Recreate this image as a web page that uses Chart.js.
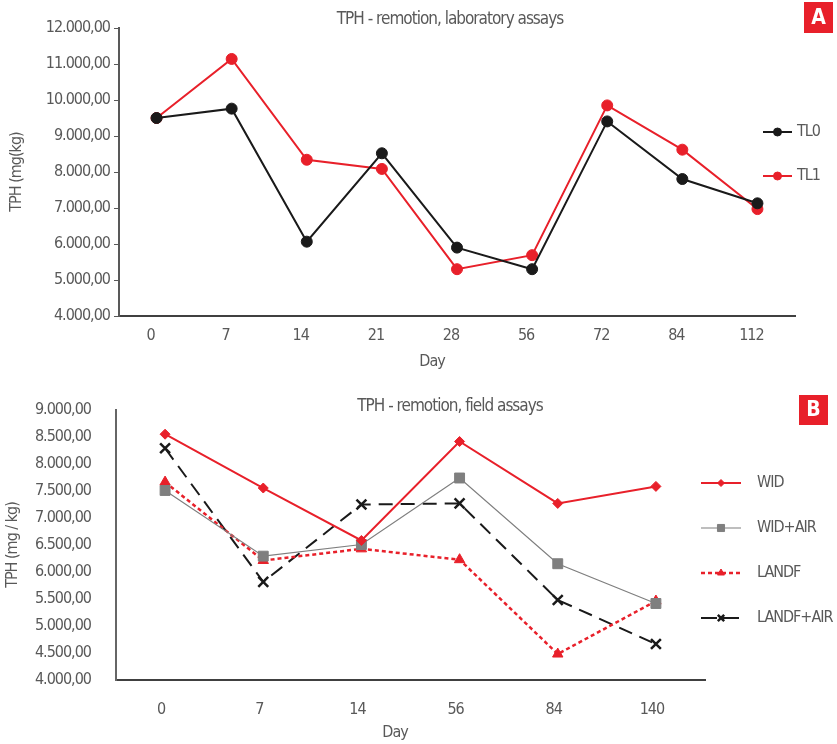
<!DOCTYPE html>
<html><head><meta charset="utf-8">
<script src="https://cdn.jsdelivr.net/npm/chart.js@4/dist/chart.umd.min.js"></script>
<style>
html,body{margin:0;padding:0;background:#fff;}
#cA{position:absolute;left:0;top:0;}
#cB{position:absolute;left:0;top:375px;}
</style></head><body>
<canvas id="cA" width="837" height="375"></canvas>
<canvas id="cB" width="837" height="369"></canvas>
<script>
// ---- Data: chart A (laboratory assays)
const daysA = ['0','7','14','21','28','56','72','84','112'];
const tl0 = [9500, 9760, 6065, 8520, 5900, 5300, 9405, 7805, 7130];
const tl1 = [9500, 11140, 8340, 8085, 5300, 5690, 9850, 8620, 6970];
// ---- Data: chart B (field assays)
const daysB = ['0','7','14','56','84','140'];
const wid      = [8545, 7550, 6580, 8410, 7265, 7580];
const widAir   = [7505, 6290, 6505, 7735, 6150, 5415];
const landf    = [7660, 6210, 6425, 6225, 4480, 5460];
const landfAir = [8285, 5815, 7245, 7265, 5480, 4665];

const FONT = "'Liberation Sans Narrow','Arial Narrow','DejaVu Sans Condensed',sans-serif";
const TXT = '#595959';
const RED = '#e8202a';
const LS = '-1px';

function fmt(v){
  const s = Math.round(v).toString();
  return s.replace(/\B(?=(\d{3})+(?!\d))/g, '.') + ',00';
}

const narrow = {
  id: 'narrow',
  beforeInit(chart){ chart.ctx.letterSpacing = LS; },
  beforeLayout(chart){ chart.ctx.letterSpacing = LS; },
  beforeDraw(chart){ chart.ctx.letterSpacing = LS; }
};

const deco = {
  id: 'deco',
  afterDraw(chart, args, o){
    const ctx = chart.ctx;
    ctx.save();
    ctx.letterSpacing = LS;
    ctx.fillStyle = TXT;
    ctx.textAlign = 'center'; ctx.textBaseline = 'middle';
    ctx.font = '17px ' + FONT;
    ctx.fillText(o.title.text, o.title.x, o.title.y);
    ctx.font = '16px ' + FONT;
    ctx.fillText(o.xTitle.text, o.xTitle.x, o.xTitle.y);
    ctx.save();
    ctx.translate(o.yTitle.x, o.yTitle.y);
    ctx.rotate(-Math.PI/2);
    ctx.font = '16px ' + FONT;
    ctx.fillText(o.yTitle.text, 0, 0);
    ctx.restore();
    // badge
    ctx.fillStyle = RED;
    ctx.fillRect(o.badge.x, o.badge.y, o.badge.w, o.badge.h);
    ctx.fillStyle = '#fff';
    ctx.letterSpacing = '0px';
    ctx.font = 'bold 21px ' + FONT;
    ctx.fillText(o.badge.text, o.badge.x + o.badge.w/2, o.badge.y + o.badge.h/2 + 1);
    ctx.letterSpacing = LS;
    // legend
    const L = o.legend;
    chart.data.datasets.forEach((ds, i) => {
      const y = L.y + i*L.dy;
      ctx.save();
      ctx.strokeStyle = ds.borderColor;
      ctx.lineWidth = ds.borderWidth;
      ctx.setLineDash(ds.legendDash || []);
      ctx.beginPath(); ctx.moveTo(L.x0, y); ctx.lineTo(L.x1, y); ctx.stroke();
      ctx.setLineDash([]);
      ctx.fillStyle = ds.pointBackgroundColor;
      ctx.strokeStyle = ds.pointBorderColor;
      ctx.lineWidth = ds.pointBorderWidth;
      const opts = {pointStyle: ds.pointStyle, rotation: 0, radius: ds.legendRadius, borderWidth: ds.pointBorderWidth};
      if (Chart.helpers && Chart.helpers.drawPoint) {
        Chart.helpers.drawPoint(ctx, opts, (L.x0+L.x1)/2, y);
      }
      ctx.restore();
      ctx.fillStyle = TXT;
      ctx.font = '16px ' + FONT;
      ctx.textAlign = 'left';
      ctx.fillText(ds.label, L.tx, y);
    });
    ctx.restore();
  }
};

Chart.defaults.font.family = FONT;
Chart.defaults.font.size = 16;
Chart.defaults.color = TXT;

new Chart(document.getElementById('cA'), {
  type: 'line',
  data: {
    labels: daysA,
    datasets: [
      {label:'TL0', data: tl0, borderColor:'#1a1a1a', borderWidth:2, pointStyle:'circle', pointRadius:5.5,
       pointBackgroundColor:'#1a1a1a', pointBorderColor:'#1a1a1a', pointBorderWidth:1, legendRadius:4, tension:0},
      {label:'TL1', data: tl1, borderColor:RED, borderWidth:2, pointStyle:'circle', pointRadius:5.5,
       pointBackgroundColor:RED, pointBorderColor:RED, pointBorderWidth:1, legendRadius:4, tension:0}
    ]
  },
  options: {
    responsive:false, animation:false,
    layout:{padding:{top:28, right:42, left:0, bottom:0}},
    plugins:{legend:{display:false}, tooltip:{enabled:false},
      deco:{
        title:{text:'TPH - remotion, laboratory assays', x:450, y:20},
        xTitle:{text:'Day', x:432, y:362},
        yTitle:{text:'TPH (mg(kg)', x:17, y:172},
        badge:{text:'A', x:804, y:2, w:29, h:31},
        legend:{x0:763, x1:792, tx:797, y:132, dy:44}
      }},
    scales:{
      x:{type:'category', offset:true,
         grid:{display:false, drawTicks:false},
         border:{display:true, color:'#404040', width:2},
         ticks:{padding:10, labelOffset:-6, color:TXT, autoSkip:false, maxRotation:0},
         afterFit(s){ s.height = 59; }},
      y:{min:4000, max:12000,
         ticks:{stepSize:1000, callback:(v)=>fmt(v), padding:4, color:TXT},
         grid:{drawOnChartArea:false, drawTicks:true, tickLength:5, color:'#595959', lineWidth:1},
         border:{display:true, color:'#595959', width:2},
         afterFit(s){ s.width = 119; }}
    }
  },
  plugins:[narrow, deco]
});

new Chart(document.getElementById('cB'), {
  type: 'line',
  data: {
    labels: daysB,
    datasets: [
      {label:'WID', data: wid, borderColor:RED, borderWidth:2, pointStyle:'rectRot', pointRadius:5,
       pointBackgroundColor:RED, pointBorderColor:RED, pointBorderWidth:1, legendRadius:3.5, tension:0},
      {label:'WID+AIR', data: widAir, borderColor:'#7f7f7f', borderWidth:1.2, pointStyle:'rect', pointRadius:7,
       pointBackgroundColor:'#7f7f7f', pointBorderColor:'#7f7f7f', pointBorderWidth:1, legendRadius:5, tension:0},
      {label:'LANDF', data: landf, borderColor:RED, borderWidth:2.5, borderDash:[4,3], legendDash:[4,3], pointStyle:'triangle', pointRadius:6,
       pointBackgroundColor:RED, pointBorderColor:RED, pointBorderWidth:1, legendRadius:4, tension:0},
      {label:'LANDF+AIR', data: landfAir, borderColor:'#1a1a1a', borderWidth:2, borderDash:[14,8], legendDash:[16,6], pointStyle:'crossRot', pointRadius:7,
       pointBackgroundColor:'#1a1a1a', pointBorderColor:'#1a1a1a', pointBorderWidth:2.5, legendRadius:4.5, tension:0}
    ]
  },
  options: {
    responsive:false, animation:false,
    layout:{padding:{top:31, right:132, left:0, bottom:0}},
    plugins:{legend:{display:false}, tooltip:{enabled:false},
      deco:{
        title:{text:'TPH - remotion, field assays', x:450, y:32},
        xTitle:{text:'Day', x:395, y:358},
        yTitle:{text:'TPH (mg / kg)', x:13, y:170},
        badge:{text:'B', x:799, y:20, w:29, h:30},
        legend:{x0:701, x1:741, tx:757, y:108, dy:45}
      }},
    scales:{
      x:{type:'category', offset:true,
         grid:{display:false, drawTicks:false},
         border:{display:true, color:'#404040', width:2},
         ticks:{padding:20, labelOffset:-4, color:TXT, autoSkip:false, maxRotation:0},
         afterFit(s){ s.height = 64; }},
      y:{min:4000, max:9000,
         ticks:{stepSize:500, callback:(v)=>fmt(v), padding:25, color:TXT},
         grid:{drawOnChartArea:false, drawTicks:false},
         border:{display:true, color:'#666666', width:2},
         afterFit(s){ s.width = 116; }}
    }
  },
  plugins:[narrow, deco]
});
</script>
</body></html>
